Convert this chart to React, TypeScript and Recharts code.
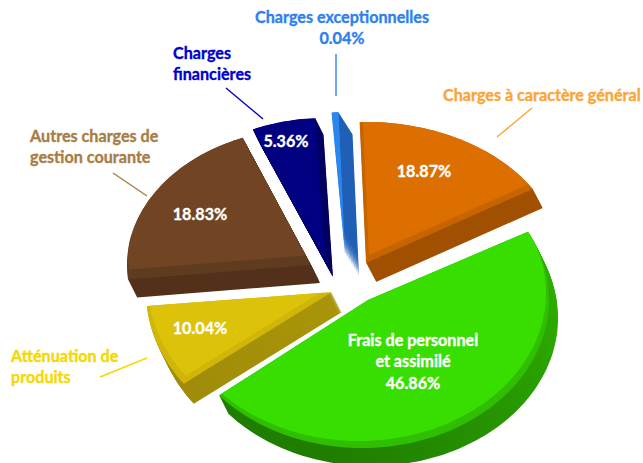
import React from 'react';
import { PieChart, Pie } from 'recharts';

const categories = [
  'Charges à caractère général',
  'Frais de personnel et assimilé',
  'Atténuation de produits',
  'Autres charges de gestion courante',
  'Charges financières',
  'Charges exceptionnelles',
];
const values = [18.87, 46.86, 10.04, 18.83, 5.36, 0.04];

const FONT = 'Lato, "Open Sans", sans-serif';
const CONDENSE = 0.95;

// Appearance of each slice: [main, bevel, wall, wall end]
const faceColors = [
  ['#DD6F00', '#C66400', '#A05000', '#A05000'],
  ['#38DE00', '#2FBE00', '#2DAB00', '#1F7D00'],
  ['#DCC30A', '#D0B608', '#A89408', '#A08C08'],
  ['#714523', '#5F3B20', '#52301A', '#52301A'],
  ['#000080', '#000080', '#000060', '#000060'],
  ['#2C86F0', '#2C86F0', '#1F5FB5', '#1F5FB5'],
];
// Exploded-view placement: apex shift, ellipse centre shift and radii, perspective warp, extrusion and bevel
const explode = [
  { dx: 21, dy: -12, ox: 0, rx: 196, ry: 141, rot: -3.6, warp: 0.89, ex: 10, ey: 19, bx: 3, by: -8 },
  { dx: 23, dy: 25, ox: -6, rx: 187, ry: 148, rot: -2, warp: 1.014, ex: 9, ey: 18, bx: -3, by: -7 },
  { dx: -13, dy: 17, ox: 0, rx: 186, ry: 152, rot: -0.45, warp: 0.862, ex: 10, ey: 20, bx: 2, by: -8 },
  { dx: -34, dy: -10, ox: 0, rx: 184, ry: 137, rot: -0.4, warp: 1.1, ex: 9, ey: 18, bx: 1, by: -10 },
  { dx: -20, dy: -14, ox: 0, rx: 185, ry: 143, rot: 1.5, warp: 0.97, ex: 8, ey: 16, bx: 0, by: 0 },
  { dx: 0, dy: -21, ox: 0, rx: 185, ry: 142, rot: 0, warp: 1, ex: 14, ey: 22, bx: 0, by: 0 },
];
// Callouts
const leaders = [
  { x1: 532, y1: 108, x2: 497, y2: 137, color: '#FAA537' },
  null,
  { x1: 147, y1: 358, x2: 100, y2: 377, color: '#F5D800' },
  { x1: 113, y1: 173, x2: 147, y2: 196, color: '#A97C45' },
  { x1: 226, y1: 88, x2: 263, y2: 119, color: '#0000CC' },
  { x1: 336, y1: 54, x2: 336, y2: 96, color: '#2F80ED' },
];
const nameLabels = [
  { lines: ['Charges à caractère général'], x: 443, y: 101, anchor: 'start', color: '#FAA537' },
  { lines: ['Frais de personnel', 'et assimilé'], x: 413, y: 346, anchor: 'middle', color: '#FFFFFF' },
  { lines: ['Atténuation de', 'produits'], x: 11, y: 362, anchor: 'start', color: '#F5D800' },
  { lines: ['Autres charges de', 'gestion courante'], x: 30, y: 142, anchor: 'start', color: '#A97C45' },
  { lines: ['Charges', 'financières'], x: 173, y: 59, anchor: 'start', color: '#0000CC' },
  { lines: ['Charges exceptionnelles'], x: 342, y: 23, anchor: 'middle', color: '#2F80ED' },
];
const valueLabels = [
  { x: 424, y: 177, color: '#FFFFFF' },
  { x: 413, y: 389, color: '#FFFFFF' },
  { x: 200, y: 334, color: '#FFFFFF' },
  { x: 200, y: 220, color: '#FFFFFF' },
  { x: 286, y: 147, color: '#FFFFFF' },
  { x: 342, y: 44, color: '#2F80ED' },
];

const pieData = categories.map((name, i) => ({ name, value: values[i] }));

function slicePath(ax: number, ay: number, ox: number, rx: number, ry: number, a0: number, a1: number) {
  let d = `M${ax.toFixed(1)},${ay.toFixed(1)}`;
  const n = Math.max(2, Math.ceil(Math.abs(a1 - a0) / 1.5));
  for (let k = 0; k <= n; k++) {
    const phi = ((a0 + ((a1 - a0) * k) / n) * Math.PI) / 180;
    d += `L${(ax + ox + rx * Math.sin(phi)).toFixed(1)},${(ay - ry * Math.cos(phi)).toFixed(1)}`;
  }
  return d + 'Z';
}

function SliceShape(props: any) {
  const name = props.payload?.name ?? props.name;
  const i = categories.indexOf(name);
  const e = explode[i];
  const [main, bevel, wall, wallEnd] = faceColors[i];
  // library angles -> clockwise from the top, then perspective warp
  const s = 90 - props.startAngle;
  const t = 90 - props.endAngle;
  const mid = (s + t) / 2 + e.rot;
  const a0 = mid - ((t - s) / 2) * e.warp;
  const a1 = mid + ((t - s) / 2) * e.warp;
  const ax = props.cx + e.dx;
  const ay = props.cy + e.dy;
  const steps = Math.max(Math.abs(e.ex), Math.abs(e.ey));
  const walls = [];
  for (let k = steps; k >= 1; k--) {
    walls.push(
      <path
        key={k}
        d={slicePath(ax + (e.ex * k) / steps, ay + (e.ey * k) / steps, e.ox, e.rx, e.ry, a0, a1)}
        fill={`url(#wall-${i})`}
      />,
    );
  }
  const face = slicePath(ax, ay, e.ox, e.rx, e.ry, a0, a1);
  return (
    <g>
      <defs>
        <linearGradient id={`wall-${i}`} x1="1" y1="0.3" x2="0.3" y2="1">
          <stop offset="0" stopColor={wall} />
          <stop offset="1" stopColor={wallEnd} />
        </linearGradient>
        <clipPath id={`face-${i}`}>
          <path d={face} />
        </clipPath>
      </defs>
      {walls}
      <path d={face} fill={bevel} />
      <path
        d={slicePath(ax + e.bx, ay + e.by, e.ox, e.rx, e.ry, a0, a1)}
        fill={main}
        clipPath={`url(#face-${i})`}
      />
    </g>
  );
}

function SliceLabel(props: any) {
  const name = props.payload?.name ?? props.name;
  const i = categories.indexOf(name);
  const n = nameLabels[i];
  const v = valueLabels[i];
  const l = leaders[i];
  const common = { fontFamily: FONT, fontWeight: 700, fontSize: 17, strokeWidth: 0.35 };
  return (
    <g>
      {l && <line x1={l.x1} y1={l.y1} x2={l.x2} y2={l.y2} stroke={l.color} strokeWidth={1.4} />}
      {n.lines.map((t, k) => (
        <text
          key={k}
          transform={`translate(${n.x},${n.y + k * 21}) scale(${CONDENSE},1)`}
          textAnchor={n.anchor as any}
          fill={n.color}
          stroke={n.color}
          {...common}
        >
          {t}
        </text>
      ))}
      <text
        transform={`translate(${v.x},${v.y}) scale(${CONDENSE},1)`}
        textAnchor="middle"
        fill={v.color}
        stroke={v.color}
        {...common}
      >
        {values[i].toFixed(2)}%
      </text>
    </g>
  );
}

export default function App() {
  return (
    <div style={{ position: 'fixed', left: 0, top: 0, width: 643, height: 463, background: '#fff' }}>
      <PieChart width={643} height={463} margin={{ top: 0, right: 0, bottom: 0, left: 0 }}>
        <Pie
          data={pieData}
          dataKey="value"
          nameKey="name"
          cx={345}
          cy={275}
          outerRadius={150}
          startAngle={92}
          endAngle={-268}
          minAngle={2}
          stroke="none"
          shape={SliceShape}
          label={SliceLabel}
          labelLine={false}
          isAnimationActive={false}
        />
      </PieChart>
    </div>
  );
}
